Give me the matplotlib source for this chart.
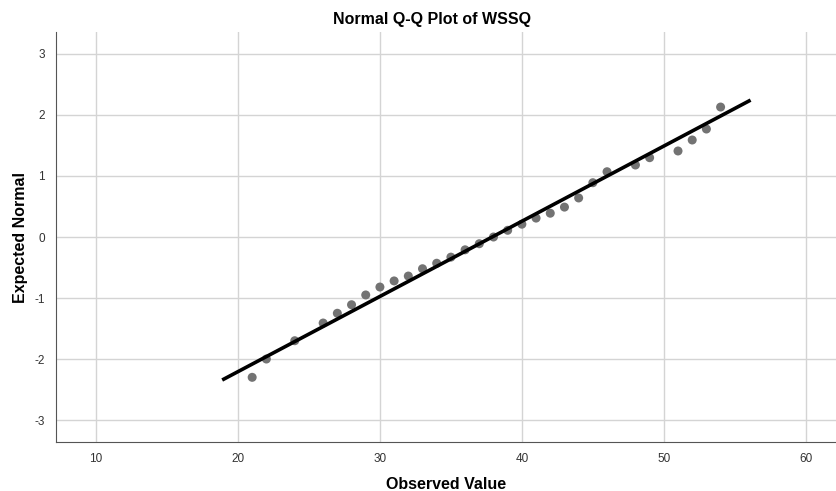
import matplotlib
matplotlib.use("Agg")
import matplotlib.pyplot as plt

plt.rcParams["font.family"] = ["Liberation Sans", "DejaVu Sans"]
plt.rcParams["axes.unicode_minus"] = False

# observed values and their expected normal scores
observed = [21, 22, 24, 26, 27, 28, 29, 30, 31, 32, 33, 34, 35, 36, 37, 38,
            39, 40, 41, 42, 43, 44, 45, 46, 48, 49, 51, 52, 53, 54]
expected = [-2.30, -2.00, -1.70, -1.41, -1.25, -1.11, -0.95, -0.82, -0.72,
            -0.64, -0.52, -0.43, -0.33, -0.21, -0.11, 0.00, 0.11, 0.21, 0.31,
            0.39, 0.49, 0.64, 0.89, 1.07, 1.18, 1.30, 1.41, 1.59, 1.77, 2.13]

# reference line end points
line_x = [19, 56]
line_y = [-2.33, 2.23]

x_ticks = [10, 20, 30, 40, 50, 60]
y_ticks = [-3, -2, -1, 0, 1, 2, 3]

fig = plt.figure(figsize=(8.37, 4.91), dpi=100)
ax = fig.add_axes([0.0669, 0.0998, 0.9331, 0.835])

ax.set_axisbelow(True)
ax.grid(True, color="#d4d4d4", linewidth=1)
ax.scatter(observed, expected, s=42, color="#737373", edgecolors="none", zorder=2)
ax.plot(line_x, line_y, color="black", linewidth=2.6, zorder=3)

ax.set_xlim(7.18, 62.2)
ax.set_ylim(-3.36, 3.36)
ax.set_xticks(x_ticks)
ax.set_yticks(y_ticks)
ax.tick_params(length=0, labelsize=8.5, colors="#333333", pad=8)

for side in ("top", "right"):
    ax.spines[side].set_visible(False)
for side in ("left", "bottom"):
    ax.spines[side].set_color("#555555")

ax.set_title("Normal Q-Q Plot of WSSQ", fontsize=11.5, fontweight="bold",
             x=0.482, pad=6)
ax.set_xlabel("Observed Value", fontsize=11.5, fontweight="bold")
ax.set_ylabel("Expected Normal", fontsize=11.5, fontweight="bold")
ax.xaxis.set_label_coords(0.50, -0.103)
ax.yaxis.set_label_coords(-0.046, 0.5)
ax.xaxis.label.set_va("center")
ax.yaxis.label.set_va("center")

fig.savefig("out.png", dpi=100)
plt.close(fig)
